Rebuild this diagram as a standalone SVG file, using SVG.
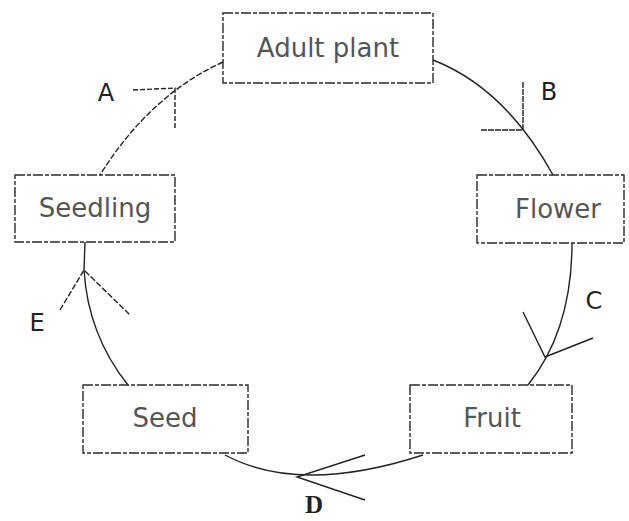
<svg xmlns="http://www.w3.org/2000/svg" width="629" height="521" viewBox="0 0 629 521">
<style>
.box{fill:none;stroke:#2a2a2a;stroke-width:1.4;stroke-dasharray:10 2 4 2}
.lbl{font-family:"DejaVu Sans",sans-serif;font-size:26px;fill:#555;text-anchor:middle}
.let{font-family:"DejaVu Sans",sans-serif;font-size:24px;fill:#222;text-anchor:middle}
.conn{fill:none;stroke:#222;stroke-width:1.4}
</style>
<rect width="629" height="521" fill="#fff"/>
<g id="adult-plant"><rect class="box" x="223" y="13" width="210" height="70"/><text class="lbl" x="328" y="57">Adult plant</text></g>
<g id="flower"><rect class="box" x="477" y="175" width="147" height="68"/><text class="lbl" x="558" y="218">Flower</text></g>
<g id="fruit"><rect class="box" x="410" y="385" width="162" height="68"/><text class="lbl" x="492" y="427">Fruit</text></g>
<g id="seed"><rect class="box" x="83" y="385" width="165" height="68"/><text class="lbl" x="165" y="427">Seed</text></g>
<g id="seedling"><rect class="box" x="15" y="175" width="160" height="67"/><text class="lbl" x="95" y="217">Seedling</text></g>
<g id="connectors">
<path class="conn" d="M223,62 Q150,95 100,175" stroke-dasharray="6 2"/>
<path class="conn" d="M433,60 Q505,88 553,175"/>
<path class="conn" d="M572,243 Q572,330 528,385"/>
<path class="conn" d="M423,455 Q300,495 225,455"/>
<path class="conn" d="M128,385 Q88,335 84,270 L85,242"/>
<path class="conn" d="M133,90 L175,88 L175,130" stroke-dasharray="5 2"/>
<path class="conn" d="M523,82 L523,130 L480,130" stroke-dasharray="6 1"/>
<path class="conn" d="M523,312 L545,357 L593,338"/>
<path class="conn" d="M365,455 L297,477 L365,500"/>
<path class="conn" d="M60,310 L84,270 L130,315" stroke-dasharray="6 2"/>
</g>
<g id="labels">
<text class="let" x="106" y="101">A</text>
<text class="let" x="549" y="100">B</text>
<text class="let" x="594" y="309">C</text>
<text x="314" y="513" style="font-family:'Liberation Serif',serif;font-size:25px;font-weight:bold;fill:#222;text-anchor:middle">D</text>
<text class="let" x="37" y="331">E</text>
</g>
</svg>
